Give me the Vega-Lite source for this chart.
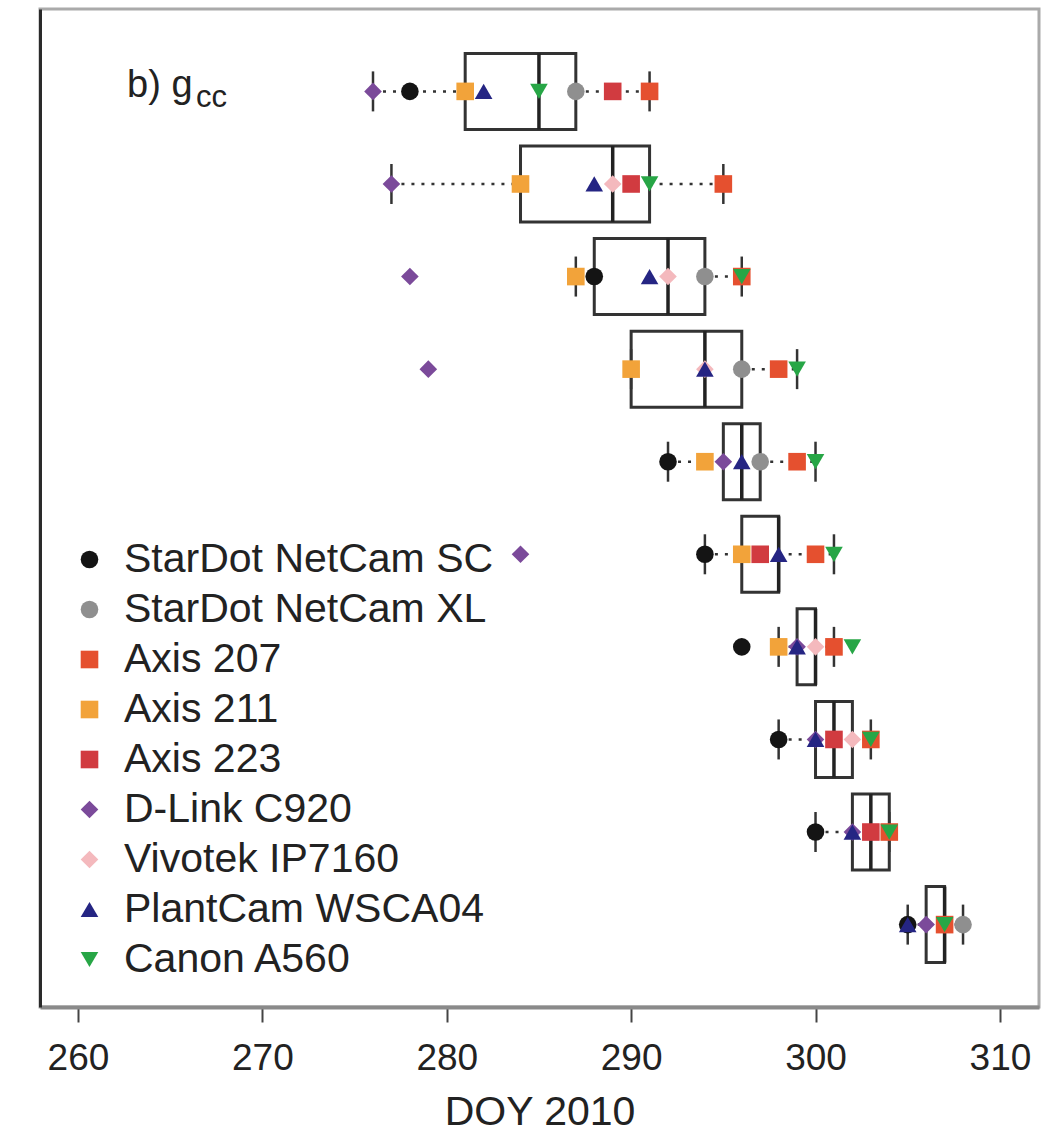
{
  "$schema": "https://vega.github.io/schema/vega-lite/v6.json",
  "width": 999,
  "height": 998,
  "autosize": {"type": "none"},
  "padding": {"left": 40, "top": 9, "right": 7, "bottom": 130},
  "background": "white",
  "config": {
    "view": {"stroke": "#aaaaaa", "strokeWidth": 3},
    "font": "Liberation Sans",
    "axis": {"grid": false}
  },
  "datasets": {
    "boxes": [
      {"row": 1, "wlo": 276, "q1": 281, "med": 285, "q3": 287, "whi": 291},
      {"row": 2, "wlo": 277, "q1": 284, "med": 289, "q3": 291, "whi": 295},
      {"row": 3, "wlo": 287, "q1": 288, "med": 292, "q3": 294, "whi": 296},
      {"row": 4, "wlo": 290, "q1": 290, "med": 294, "q3": 296, "whi": 299},
      {"row": 5, "wlo": 292, "q1": 295, "med": 296, "q3": 297, "whi": 300},
      {"row": 6, "wlo": 294, "q1": 296, "med": 298, "q3": 298, "whi": 301},
      {"row": 7, "wlo": 298, "q1": 299, "med": 300, "q3": 300, "whi": 301},
      {"row": 8, "wlo": 298, "q1": 300, "med": 301, "q3": 302, "whi": 303},
      {"row": 9, "wlo": 300, "q1": 302, "med": 303, "q3": 304, "whi": 304},
      {"row": 10, "wlo": 305, "q1": 306, "med": 307, "q3": 307, "whi": 308}
    ],
    "points": [
      {"row": 1, "camera": "StarDot NetCam SC", "doy": 278},
      {"row": 1, "camera": "StarDot NetCam XL", "doy": 287},
      {"row": 1, "camera": "Axis 207", "doy": 291},
      {"row": 1, "camera": "Axis 211", "doy": 281},
      {"row": 1, "camera": "Axis 223", "doy": 289},
      {"row": 1, "camera": "D-Link C920", "doy": 276},
      {"row": 1, "camera": "PlantCam WSCA04", "doy": 282},
      {"row": 1, "camera": "Canon A560", "doy": 285},
      {"row": 2, "camera": "Axis 207", "doy": 295},
      {"row": 2, "camera": "Axis 211", "doy": 284},
      {"row": 2, "camera": "Axis 223", "doy": 290},
      {"row": 2, "camera": "D-Link C920", "doy": 277},
      {"row": 2, "camera": "Vivotek IP7160", "doy": 289},
      {"row": 2, "camera": "PlantCam WSCA04", "doy": 288},
      {"row": 2, "camera": "Canon A560", "doy": 291},
      {"row": 3, "camera": "StarDot NetCam SC", "doy": 288},
      {"row": 3, "camera": "StarDot NetCam XL", "doy": 294},
      {"row": 3, "camera": "Axis 207", "doy": 296},
      {"row": 3, "camera": "Axis 211", "doy": 287},
      {"row": 3, "camera": "D-Link C920", "doy": 278},
      {"row": 3, "camera": "Vivotek IP7160", "doy": 292},
      {"row": 3, "camera": "PlantCam WSCA04", "doy": 291},
      {"row": 3, "camera": "Canon A560", "doy": 296},
      {"row": 4, "camera": "StarDot NetCam XL", "doy": 296},
      {"row": 4, "camera": "Axis 207", "doy": 298},
      {"row": 4, "camera": "Axis 211", "doy": 290},
      {"row": 4, "camera": "D-Link C920", "doy": 279},
      {"row": 4, "camera": "Vivotek IP7160", "doy": 294},
      {"row": 4, "camera": "PlantCam WSCA04", "doy": 294},
      {"row": 4, "camera": "Canon A560", "doy": 299},
      {"row": 5, "camera": "StarDot NetCam SC", "doy": 292},
      {"row": 5, "camera": "StarDot NetCam XL", "doy": 297},
      {"row": 5, "camera": "Axis 207", "doy": 299},
      {"row": 5, "camera": "Axis 211", "doy": 294},
      {"row": 5, "camera": "D-Link C920", "doy": 295},
      {"row": 5, "camera": "PlantCam WSCA04", "doy": 296},
      {"row": 5, "camera": "Canon A560", "doy": 300},
      {"row": 6, "camera": "StarDot NetCam SC", "doy": 294},
      {"row": 6, "camera": "Axis 207", "doy": 300},
      {"row": 6, "camera": "Axis 211", "doy": 296},
      {"row": 6, "camera": "Axis 223", "doy": 297},
      {"row": 6, "camera": "D-Link C920", "doy": 284},
      {"row": 6, "camera": "PlantCam WSCA04", "doy": 298},
      {"row": 6, "camera": "Canon A560", "doy": 301},
      {"row": 7, "camera": "StarDot NetCam SC", "doy": 296},
      {"row": 7, "camera": "Axis 207", "doy": 301},
      {"row": 7, "camera": "Axis 211", "doy": 298},
      {"row": 7, "camera": "D-Link C920", "doy": 299},
      {"row": 7, "camera": "Vivotek IP7160", "doy": 300},
      {"row": 7, "camera": "PlantCam WSCA04", "doy": 299},
      {"row": 7, "camera": "Canon A560", "doy": 302},
      {"row": 8, "camera": "StarDot NetCam SC", "doy": 298},
      {"row": 8, "camera": "Axis 207", "doy": 303},
      {"row": 8, "camera": "Axis 223", "doy": 301},
      {"row": 8, "camera": "D-Link C920", "doy": 300},
      {"row": 8, "camera": "Vivotek IP7160", "doy": 302},
      {"row": 8, "camera": "PlantCam WSCA04", "doy": 300},
      {"row": 8, "camera": "Canon A560", "doy": 303},
      {"row": 9, "camera": "StarDot NetCam SC", "doy": 300},
      {"row": 9, "camera": "Axis 207", "doy": 304},
      {"row": 9, "camera": "Axis 223", "doy": 303},
      {"row": 9, "camera": "D-Link C920", "doy": 302},
      {"row": 9, "camera": "PlantCam WSCA04", "doy": 302},
      {"row": 9, "camera": "Canon A560", "doy": 304},
      {"row": 10, "camera": "StarDot NetCam SC", "doy": 305},
      {"row": 10, "camera": "StarDot NetCam XL", "doy": 308},
      {"row": 10, "camera": "Axis 207", "doy": 307},
      {"row": 10, "camera": "D-Link C920", "doy": 306},
      {"row": 10, "camera": "PlantCam WSCA04", "doy": 305},
      {"row": 10, "camera": "Canon A560", "doy": 307}
    ]
  },
  "encoding": {
    "y": {
      "field": "row",
      "type": "ordinal",
      "scale": {"type": "point", "padding": 0.89, "domain": [1, 2, 3, 4, 5, 6, 7, 8, 9, 10]},
      "axis": {"labels": false, "ticks": false, "title": null, "domain": true, "domainColor": "#2a2a2a", "domainWidth": 3}
    }
  },
  "layer": [
    {
      "data": {"name": "boxes"},
      "mark": {"type": "rule", "stroke": "#333333", "strokeWidth": 2.5, "strokeDash": [3, 7]},
      "encoding": {
        "x": {
          "field": "wlo",
          "type": "quantitative",
          "scale": {"domain": [257.94, 312.12], "nice": false, "zero": false},
          "axis": {
            "values": [260, 270, 280, 290, 300, 310],
            "title": "DOY 2010",
            "titleFontSize": 41,
            "titleFontWeight": "normal",
            "titleColor": "#222222",
            "titlePadding": 16,
            "labelFontSize": 37,
            "labelColor": "#222222",
            "labelPadding": 18,
            "tickSize": 15,
            "tickWidth": 2,
            "tickColor": "#444444",
            "domainColor": "#8a8a8a",
            "domainWidth": 4
          }
        },
        "x2": {"field": "q1"}
      }
    },
    {
      "data": {"name": "boxes"},
      "mark": {"type": "rule", "stroke": "#333333", "strokeWidth": 2.5, "strokeDash": [3, 7]},
      "encoding": {
        "x": {"field": "q3", "type": "quantitative"},
        "x2": {"field": "whi"}
      }
    },
    {
      "data": {"name": "boxes"},
      "mark": {"type": "tick", "color": "#333333", "opacity": 1, "size": 40, "thickness": 2.5, "orient": "vertical"},
      "encoding": {"x": {"field": "wlo", "type": "quantitative"}}
    },
    {
      "data": {"name": "boxes"},
      "mark": {"type": "tick", "color": "#333333", "opacity": 1, "size": 40, "thickness": 2.5, "orient": "vertical"},
      "encoding": {"x": {"field": "whi", "type": "quantitative"}}
    },
    {
      "data": {"name": "boxes"},
      "mark": {"type": "bar", "size": 76, "fill": "white", "fillOpacity": 0, "stroke": "#333333", "strokeWidth": 3},
      "encoding": {
        "x": {"field": "q1", "type": "quantitative"},
        "x2": {"field": "q3"}
      }
    },
    {
      "data": {"name": "boxes"},
      "mark": {"type": "tick", "color": "#222222", "opacity": 1, "size": 76, "thickness": 3.5, "orient": "vertical"},
      "encoding": {"x": {"field": "med", "type": "quantitative"}}
    },
    {
      "data": {"name": "points"},
      "mark": {"type": "point", "filled": true, "opacity": 1, "strokeWidth": 0},
      "encoding": {
        "x": {"field": "doy", "type": "quantitative"},
        "size": {
          "field": "camera",
          "type": "nominal",
          "scale": {
            "domain": ["StarDot NetCam SC", "StarDot NetCam XL", "Axis 207", "Axis 211", "Axis 223", "D-Link C920", "Vivotek IP7160", "PlantCam WSCA04", "Canon A560"],
            "range": [310, 310, 330, 330, 330, 480, 480, 440, 440]
          },
          "legend": null
        },
        "color": {
          "field": "camera",
          "type": "nominal",
          "scale": {
            "domain": ["StarDot NetCam SC", "StarDot NetCam XL", "Axis 207", "Axis 211", "Axis 223", "D-Link C920", "Vivotek IP7160", "PlantCam WSCA04", "Canon A560"],
            "range": ["#141414", "#8f8f8f", "#e5502f", "#f2a33a", "#d13b40", "#7b4a9a", "#f4b9bd", "#252583", "#27a646"]
          },
          "legend": {
            "title": null,
            "orient": "none",
            "legendX": 29,
            "legendY": 530,
            "padding": 0,
            "symbolSize": 480,
            "symbolStrokeWidth": 0,
            "labelFontSize": 41,
            "labelColor": "#222222",
            "labelOffset": 14,
            "rowPadding": 8,
            "labelLimit": 600
          }
        },
        "shape": {
          "field": "camera",
          "type": "nominal",
          "scale": {
            "domain": ["StarDot NetCam SC", "StarDot NetCam XL", "Axis 207", "Axis 211", "Axis 223", "D-Link C920", "Vivotek IP7160", "PlantCam WSCA04", "Canon A560"],
            "range": ["circle", "circle", "square", "square", "square", "diamond", "diamond", "triangle-up", "triangle-down"]
          },
          "legend": {
            "title": null,
            "orient": "none",
            "legendX": 29,
            "legendY": 530,
            "padding": 0,
            "symbolSize": 480,
            "symbolStrokeWidth": 0,
            "labelFontSize": 41,
            "labelColor": "#222222",
            "labelOffset": 14,
            "rowPadding": 8,
            "labelLimit": 600
          }
        }
      }
    },
    {
      "data": {"values": [{"label": "b) g", "doy": 262.66, "row": 1}]},
      "mark": {"type": "text", "align": "left", "baseline": "alphabetic", "fontSize": 38, "color": "#222222", "dy": 6},
      "encoding": {
        "x": {"field": "doy", "type": "quantitative"},
        "text": {"field": "label"}
      }
    },
    {
      "data": {"values": [{"label": "cc", "doy": 266.4, "row": 1}]},
      "mark": {"type": "text", "align": "left", "baseline": "alphabetic", "fontSize": 31, "color": "#222222", "dy": 16},
      "encoding": {
        "x": {"field": "doy", "type": "quantitative"},
        "text": {"field": "label"}
      }
    }
  ]
}
